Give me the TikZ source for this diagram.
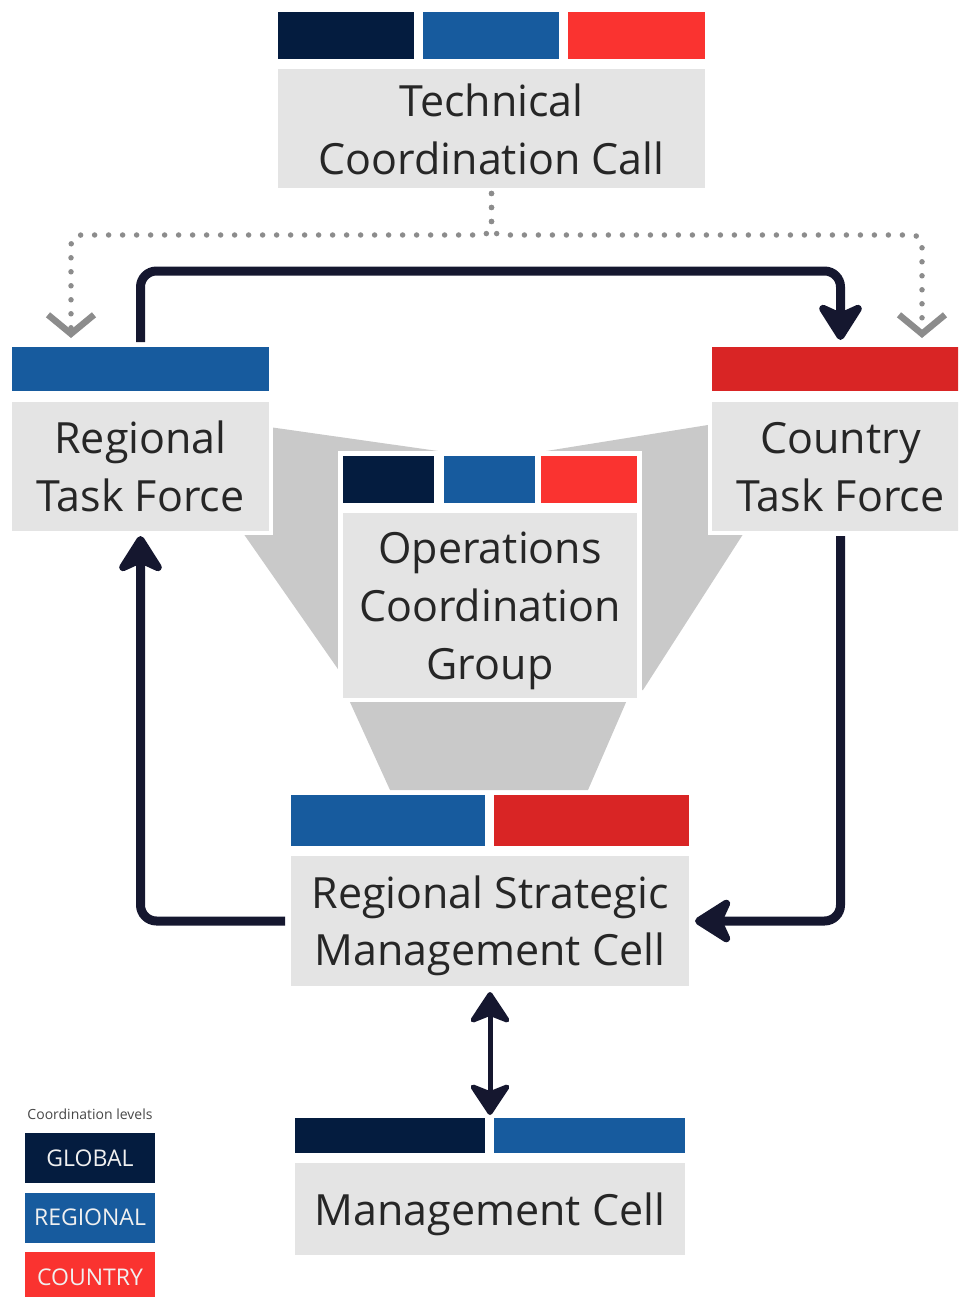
\documentclass[tikz,border=0pt]{standalone}
\usepackage{fontspec}
\setmainfont{Open Sans}
\usetikzlibrary{arrows.meta,calc}
\definecolor{cnavy}{HTML}{041C3F}
\definecolor{cblue}{HTML}{175B9E}
\definecolor{cred}{HTML}{FA3330}
\definecolor{cdred}{HTML}{D92525}
\definecolor{cbox}{HTML}{E4E4E4}
\definecolor{cfun}{HTML}{C9C9C9}
\definecolor{carrow}{HTML}{15172F}
\definecolor{cdot}{HTML}{8C8C8C}
\definecolor{ctext}{HTML}{262626}
\begin{document}
\begin{tikzpicture}[x=1pt,y=-1pt,
  bar/.style={fill=#1, draw=none, inner sep=0pt, outer sep=0pt,
    preaction={draw=white,line width=8pt}},
  graybox/.style={fill=cbox, draw=none, inner sep=0pt, outer sep=0pt,
    text=ctext, align=center, font=\fontsize{43}{58}\selectfont,
    text depth=0pt, preaction={draw=white,line width=8pt}},
  legbox/.style={fill=#1, draw=none, inner sep=0pt, outer sep=0pt,
    minimum width=130pt, minimum height=50pt, text=white!94!black,
    font=\fontsize{23}{26}\selectfont},
  funnel/.style={fill=cfun, draw=none},
  conn/.style={draw=carrow, line width=9pt, rounded corners=16pt,
    -{Stealth[length=43pt,width=54pt,inset=12pt,round]}},
  dconn/.style={draw=carrow, line width=5pt,
    {Stealth[length=35pt,width=46pt,inset=9pt,round]}-{Stealth[length=35pt,width=46pt,inset=9pt,round]}},
  dotconn/.style={draw=cdot, line width=5.5pt, line cap=round,
    dash pattern=on 0pt off 14pt, rounded corners=10pt,
    -{Straight Barb[length=19pt,width=46pt,line width=6.5pt]}}
]
\clip (0,0) rectangle (958,1297);
\useasboundingbox (0,0) rectangle (958,1297);

% funnel shapes
\fill[funnel] (220,420) -- (445,452) -- (445,690) -- (340,672) -- (220,500) -- cycle;
\fill[funnel] (770,415) -- (540,452) -- (540,690) -- (643,690) -- (765,500) -- cycle;
\fill[funnel] (349,700) -- (627,700) -- (588,790) -- (390,790) -- cycle;

% Technical Coordination Call
\node[bar=cnavy, minimum width=136pt, minimum height=47pt] (tccg) at (346,35.5) {};
\node[bar=cblue, minimum width=136pt, minimum height=47pt] (tccr) at (491,35.5) {};
\node[bar=cred,  minimum width=137pt, minimum height=47pt] (tccc) at (636.5,35.5) {};
\node[graybox, minimum width=427pt, minimum height=119pt] (tcc) at (491.5,129) {Technical\\Coordination Call};

% Regional Task Force
\node[bar=cblue, minimum width=257pt, minimum height=44pt] (rtfbar) at (140.5,369) {};
\node[graybox, minimum width=257pt, minimum height=129pt] (rtf) at (140.5,466.5) {Regional\\Task Force};

% Country Task Force
\node[bar=cdred, minimum width=257pt, minimum height=44pt] (ctfbar) at (840.5,369) {};
\node[graybox, minimum width=257pt, minimum height=129pt] (ctf) at (840.5,466.5) {Country\\Task Force};

% Operations Coordination Group
\fill[white] (338,451) rectangle (642,702);
\node[bar=cnavy, minimum width=91pt, minimum height=47pt] (ocgg) at (388.5,479.5) {};
\node[bar=cblue, minimum width=91pt, minimum height=47pt] (ocgr) at (489.5,479.5) {};
\node[bar=cred,  minimum width=96pt, minimum height=47pt] (ocgc) at (589,479.5) {};
\node[graybox, minimum width=294pt, minimum height=185pt] (ocg) at (490,605.5) {Operations\\Coordination\\Group};

% Regional Strategic Management Cell
\node[bar=cblue, minimum width=194pt, minimum height=51pt] (rsmcr) at (388,820.5) {};
\node[bar=cdred, minimum width=195pt, minimum height=51pt] (rsmcc) at (591.5,820.5) {};
\node[graybox, minimum width=398pt, minimum height=130pt, font=\fontsize{43}{57}\selectfont] (rsmc) at (490,921) {Regional Strategic\\Management Cell};

% Management Cell
\node[bar=cnavy, minimum width=190pt, minimum height=35pt] (mcg) at (390,1135.5) {};
\node[bar=cblue, minimum width=191pt, minimum height=35pt] (mcr) at (589.5,1135.5) {};
\node[graybox, minimum width=390pt, minimum height=92pt] (mc) at (490,1209) {Management Cell};

% legend
\node[text=ctext!85, font=\fontsize{14}{16}\selectfont] (legt) at (90,1114) {Coordination levels};
\node[legbox=cnavy] (lgg) at (90,1158) {GLOBAL};
\node[legbox=cblue] (lgr) at (90,1217.5) {REGIONAL};
\node[legbox=cred]  (lgc) at (90,1277) {COUNTRY};

% dotted connectors
\coordinate (dotrail) at (0,235);
\coordinate (dl) at (71,338);
\coordinate (dr) at (922,338);
\draw[dotconn] ($(tcc.south)+(0,5)$) -- (tcc.south |- dotrail) -| (dl);
\draw[dotconn] ($(tcc.south)+(0,5)$) -- (tcc.south |- dotrail) -| (dr);

% solid connectors
\coordinate (toprail) at (0,271);
\draw[conn] ($(rtfbar.north)+(0,-5)$) |- (toprail -| ctfbar.north) -- ($(ctfbar.north)+(0,-7)$);
\draw[conn] ($(rsmc.west)+(-6,0)$) -| ($(rtf.south)+(0,5)$);
\draw[conn] ($(ctf.south)+(0,5)$) |- ($(rsmc.east)+(6,0)$);
\draw[dconn] ($(rsmc.south)+(0,6)$) -- ($(rsmc.south |- mcg.north)+(0,-3)$);
\end{tikzpicture}
\end{document}
